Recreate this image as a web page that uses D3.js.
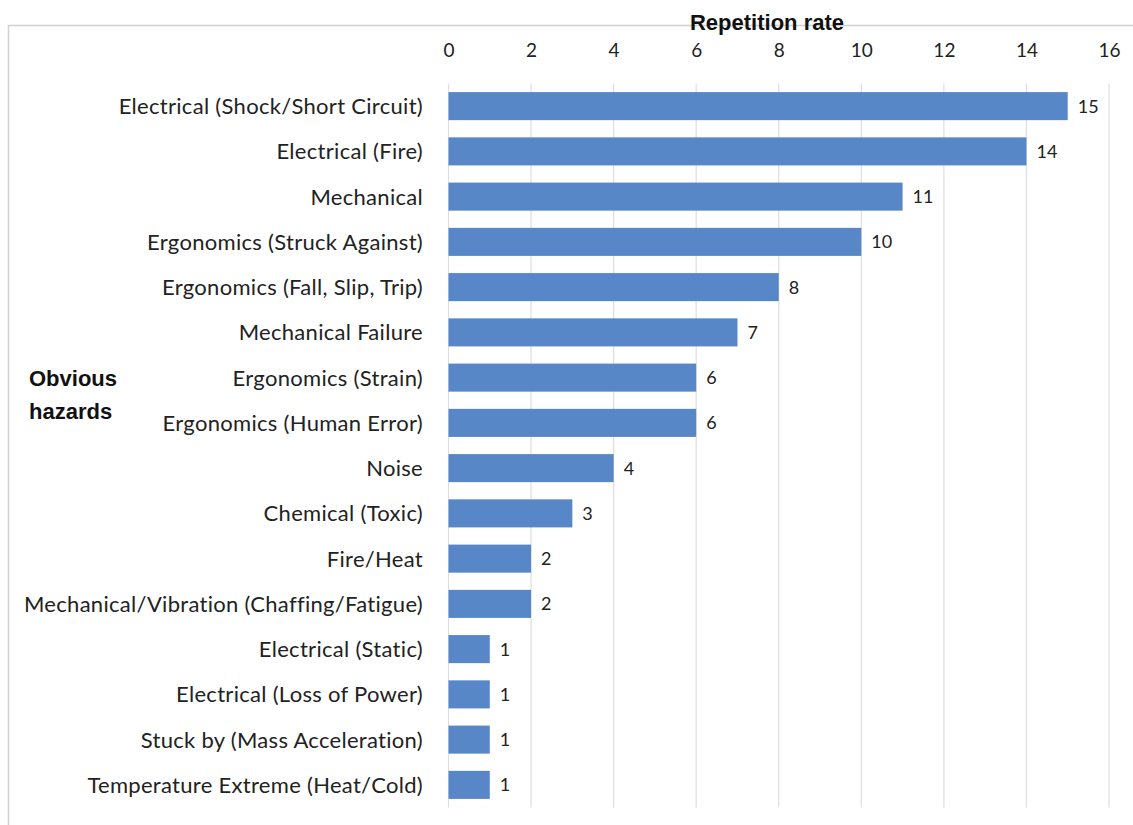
<!DOCTYPE html>
<html>
<head>
<meta charset="utf-8">
<script src="https://cdn.jsdelivr.net/npm/d3@7"></script>
<style>
  html, body { margin: 0; padding: 0; background: #fff; }
  svg { display: block; }
</style>
</head>
<body>
<svg id="chart" width="1133" height="825"></svg>
<script>
// Hazard categories and how often each was repeated
const categories = [
  "Electrical (Shock/Short Circuit)",
  "Electrical (Fire)",
  "Mechanical",
  "Ergonomics (Struck Against)",
  "Ergonomics (Fall, Slip, Trip)",
  "Mechanical Failure",
  "Ergonomics (Strain)",
  "Ergonomics (Human Error)",
  "Noise",
  "Chemical (Toxic)",
  "Fire/Heat",
  "Mechanical/Vibration (Chaffing/Fatigue)",
  "Electrical (Static)",
  "Electrical (Loss of Power)",
  "Stuck by (Mass Acceleration)",
  "Temperature Extreme (Heat/Cold)"
];
const values = [15, 14, 11, 10, 8, 7, 6, 6, 4, 3, 2, 2, 1, 1, 1, 1];
const tickValues = [0, 2, 4, 6, 8, 10, 12, 14, 16];
const axisTitle = "Repetition rate";
const groupTitle = ["Obvious", "hazards"];

const svg = d3.select("#chart");
const labelFont = "Lato, 'Open Sans', 'DejaVu Sans', sans-serif";
const boldFont = "'Liberation Sans Narrow', 'Liberation Sans', Arial, sans-serif";

// Frame lines
svg.append("line").attr("x1", 8).attr("x2", 1133).attr("y1", 25.5).attr("y2", 25.5)
  .attr("stroke", "#d0d0d0").attr("stroke-width", 1.5);
svg.append("line").attr("x1", 8.5).attr("x2", 8.5).attr("y1", 25).attr("y2", 825)
  .attr("stroke", "#d0d0d0").attr("stroke-width", 1.5);

const x = d3.scaleLinear().domain([0, 16]).range([448.5, 1109]);
const y = d3.scaleBand().domain(categories).range([83.5, 807.5]).paddingInner(0.38).paddingOuter(0.19);

// Vertical gridlines
svg.append("g").selectAll("line").data(tickValues).join("line")
  .attr("x1", d => x(d)).attr("x2", d => x(d))
  .attr("y1", 83.5).attr("y2", 807.5)
  .attr("stroke", "#dedede").attr("stroke-width", 1.2);

// Top axis labels
const axis = svg.append("g").attr("transform", "translate(0,57)")
  .call(d3.axisTop(x).tickValues(tickValues).tickSize(0).tickPadding(0));
axis.select(".domain").remove();
axis.selectAll("text")
  .attr("font-family", labelFont).attr("font-size", 19).attr("fill", "#222");

// Bars
svg.append("g").selectAll("rect").data(values).join("rect")
  .attr("x", x(0))
  .attr("y", (d, i) => y(categories[i]))
  .attr("width", d => x(d) - x(0))
  .attr("height", y.bandwidth())
  .attr("fill", "#5787c7");

// Value labels
svg.append("g").selectAll("text").data(values).join("text")
  .attr("x", d => x(d) + 10)
  .attr("y", (d, i) => y(categories[i]) + y.bandwidth() / 2)
  .attr("dy", "0.36em")
  .attr("font-family", labelFont).attr("font-size", 18).attr("fill", "#222")
  .text(d => d);

// Category labels
svg.append("g").selectAll("text").data(categories).join("text")
  .attr("x", 423)
  .attr("y", d => y(d) + y.bandwidth() / 2)
  .attr("dy", "0.36em")
  .attr("text-anchor", "end")
  .attr("font-family", labelFont).attr("font-size", 22)
  .attr("letter-spacing", 0.3).attr("fill", "#222")
  .text(d => d);

// Axis title
svg.append("text").attr("x", 767).attr("y", 30)
  .attr("text-anchor", "middle")
  .attr("font-family", boldFont).attr("font-weight", "bold").attr("font-size", 22)
  .attr("fill", "#111").text(axisTitle);

// Group title
svg.append("g").selectAll("text").data(groupTitle).join("text")
  .attr("x", 29).attr("y", (d, i) => 386 + i * 33)
  .attr("font-family", boldFont).attr("font-weight", "bold").attr("font-size", 22)
  .attr("fill", "#111").text(d => d);
</script>
</body>
</html>
